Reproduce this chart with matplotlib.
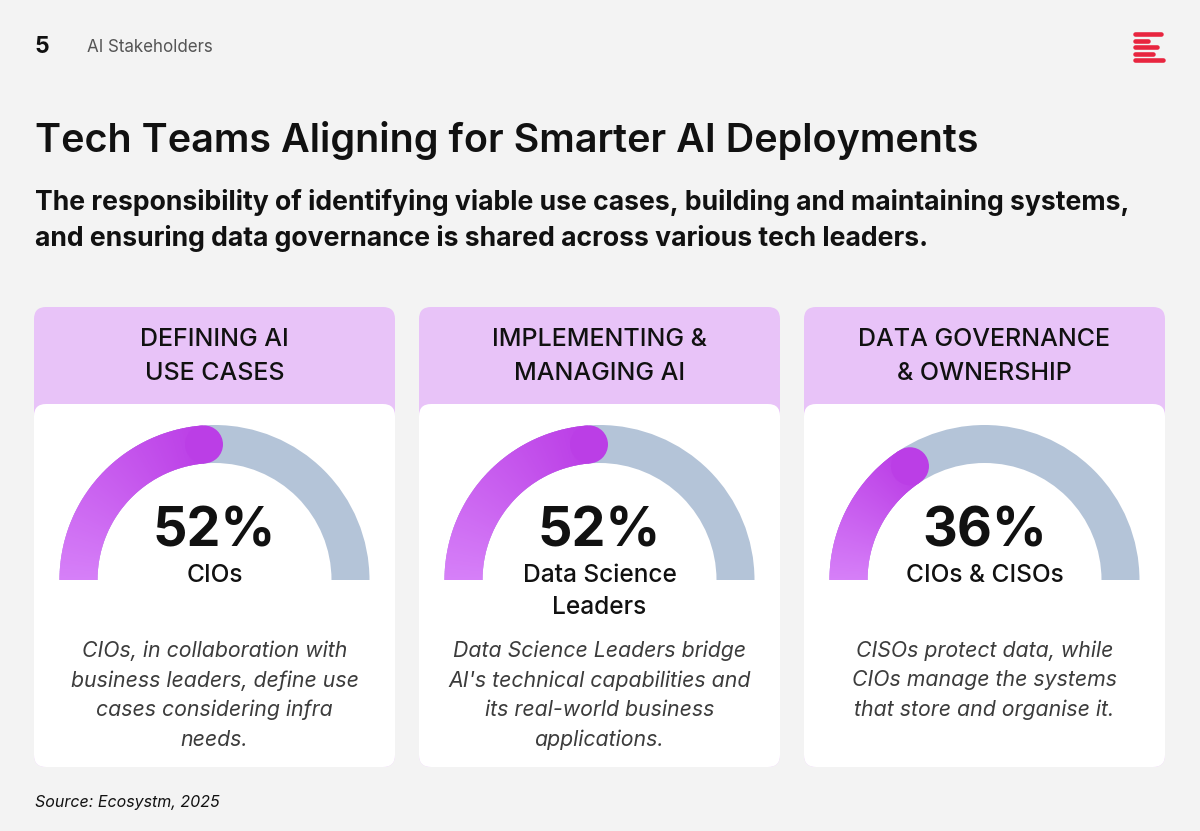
import matplotlib
matplotlib.use("Agg")
import numpy as np
import matplotlib.pyplot as plt
from matplotlib.patches import Wedge, Circle, FancyBboxPatch
from matplotlib.colors import to_rgb

# ---------------- data ----------------
page_number = "5"
section = "AI Stakeholders"
title = "Tech Teams Aligning for Smarter AI Deployments"
subtitle = ["The responsibility of identifying viable use cases, building and maintaining systems,",
            "and ensuring data governance is shared across various tech leaders."]
headers = [["DEFINING AI", "USE CASES"],
           ["IMPLEMENTING &", "MANAGING AI"],
           ["DATA GOVERNANCE", "& OWNERSHIP"]]
values = [52, 52, 36]
roles = [["CIOs"], ["Data Science", "Leaders"], ["CIOs & CISOs"]]
descriptions = [["CIOs, in collaboration with", "business leaders, define use", "cases considering infra", "needs."],
                ["Data Science Leaders bridge", "AI's technical capabilities and", "its real-world business", "applications."],
                ["CISOs protect data, while", "CIOs manage the systems", "that store and organise it."]]
source = "Source: Ecosystm, 2025"

# ---------------- styling ----------------
W, H = 1200, 831
BG = "#f3f3f3"
HEAD = "#e8c3f8"
GRAY = "#b4c4d8"
C0 = "#d680f8"
C1 = "#bb3ee6"
DARK = "#111111"
FONT = "Inter"

def px(p):
    return p * 0.72

fig = plt.figure(figsize=(12, 8.31), dpi=100)
fig.patch.set_facecolor(BG)
ax = fig.add_axes([0, 0, 1, 1])
ax.set_xlim(0, W)
ax.set_ylim(0, H)
ax.set_aspect("equal")
ax.axis("off")

def Y(y):
    return H - y

# top line
ax.text(35, Y(47), page_number, fontsize=px(23), fontweight=700, family=FONT, color=DARK, va="center", ha="left")
ax.text(87, Y(47), section, fontsize=px(17), fontweight=400, family=FONT, color="#555555", va="center", ha="left")

# logo
logo_w = [30, 17, 26, 22, 32]
logo_y = [34, 40.7, 47, 53.7, 60.3]
for wv, yv in zip(logo_w, logo_y):
    ax.plot([1135.3, 1133 + wv - 2.3], [Y(yv), Y(yv)], color="#e8253f", lw=3.3, solid_capstyle="round")

ax.text(35, Y(140), title, fontsize=px(39.5), fontweight=600, family=FONT, color=DARK, va="center", ha="left")
for i, line in enumerate(subtitle):
    ax.text(35, Y(203 + 35 * i), line, fontsize=px(26.6), fontweight=700, family=FONT, color=DARK,
            va="center", ha="left")

card_x = [34, 419, 804]
card_w = 361
card_top, card_bot = 307, 767
head_bot = 404
R_out, thick = 155, 38
R_mid = R_out - thick / 2
cap_deg = np.degrees(np.arcsin((thick / 2) / R_mid))

c0 = np.array(to_rgb(C0)); c1 = np.array(to_rgb(C1))

for k in range(3):
    x0 = card_x[k]
    cxp = x0 + card_w / 2
    # header box
    ax.add_patch(FancyBboxPatch((x0 + 12, Y(card_bot) + 12), card_w - 24, (card_bot - card_top) - 24,
                                boxstyle="round,pad=12", fc=HEAD, ec="none"))
    # white body
    ax.add_patch(FancyBboxPatch((x0 + 12, Y(card_bot) + 12), card_w - 24, (card_bot - head_bot) - 24,
                                boxstyle="round,pad=12", fc="white", ec="none"))
    for j, line in enumerate(headers[k]):
        ax.text(cxp, Y(340 + 34 * j), line, fontsize=px(25), fontweight=500, family=FONT, color=DARK,
                va="center", ha="center")

    # gauge
    cy = Y(580)
    ax.add_patch(Wedge((cxp, cy), R_out, 0, 180, width=thick, fc=GRAY, ec="none"))
    v = values[k]
    end_tip = 180 - 180 * v / 100.0
    cap_ang = end_tip + cap_deg
    n = 120
    angs = np.linspace(180, cap_ang, n + 1)
    for s in range(n):
        t = s / (n - 1)
        col = c0 + (c1 - c0) * t
        a1, a2 = angs[s + 1], angs[s]
        ax.add_patch(Wedge((cxp, cy), R_out, a1, min(a2 + 0.6, 180), width=thick, fc=col, ec="none", lw=0))
    ca = np.radians(cap_ang)
    ax.add_patch(Circle((cxp + R_mid * np.cos(ca), cy + R_mid * np.sin(ca)), thick / 2, fc=C1, ec="none"))

    ax.text(cxp, Y(532), f"{v}%", fontsize=px(54), fontweight=700, family=FONT, color=DARK,
            va="center", ha="center")
    for j, line in enumerate(roles[k]):
        ax.text(cxp, Y(576 + 32 * j), line, fontsize=px(24.5), fontweight=500, family=FONT, color=DARK,
                va="center", ha="center")
    for j, line in enumerate(descriptions[k]):
        ax.text(cxp, Y(651 + 29.5 * j), line, fontsize=px(21.3), fontweight=400, style="italic", family=FONT,
                color="#3c3c3c", va="center", ha="center")

ax.text(35, Y(802), source, fontsize=px(16), style="italic", family=FONT, color=DARK, va="center", ha="left")

fig.savefig("out.png", dpi=100, facecolor=BG)
